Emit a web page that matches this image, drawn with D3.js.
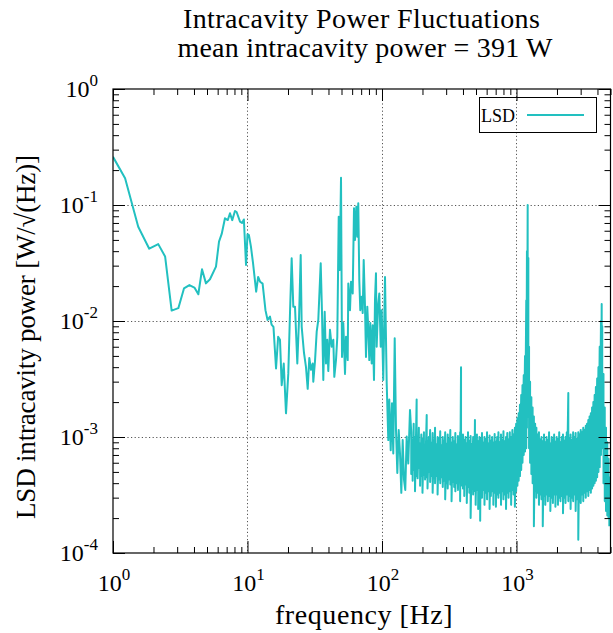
<!DOCTYPE html>
<html><head><meta charset="utf-8">
<script src="https://cdn.jsdelivr.net/npm/d3@7"></script>
<style>body{margin:0;background:#fff}svg{display:block}</style>
</head><body>
<script>
// ---- data ----
const lowFreq = [1.0,1.23,1.54,1.86,2.17,2.44,2.73,3.06,3.37,3.7,4.03,4.31,4.59,4.91,5.26,5.83,6.14,6.43,6.8,7.14,7.41,7.7,8.07,8.3,8.8,9.1,9.4,9.75,10.0,10.25,10.6,11.0,11.6,12.0,12.4,12.95,13.6,14.1,14.7,15.1,15.6,16.3,16.9,17.44,17.96,18.6,19.33,20.1,20.7,21.3,21.9,22.55,23.46,24.15,24.86,25.29,26.31,27.22,28.03,28.81,29.66,30.54,30.85,31.76,32.7,33.6,35.02,35.81,36.62,37.5,38.34,39.19,39.87,41.05,42.27,43.45,44.21,45.5,46.53,47.66,48.48,49.58,50.43,51.57,53.09,54.0,55.6,56.16,57.83,58.82,60.57,61.93,63.0,64.41,65.5,66.63,67.79,68.96,70.66,71.87,73.11,74.76,76.03,77.75,79.09,80.46,81.85,83.83,85.29,87.2,88.7,90.2,91.3,93.4,95.5,97.8,99.5,102.2,105.3,108.4,111.4,113.3,116.1,118.7,121.3,124.3,127.1,130.0,133.1,136.1,139.2,142.5,145.7,149.0,152.6,156.8,161.5];
const lowLSD = [0.26,0.17,0.065,0.042,0.046,0.036,0.0123,0.0129,0.0191,0.0204,0.0194,0.017,0.0279,0.0211,0.0229,0.0294,0.0483,0.0563,0.0768,0.0742,0.085,0.074,0.0888,0.087,0.0718,0.070,0.075,0.0304,0.056,0.055,0.044,0.0314,0.0179,0.024,0.0218,0.021,0.0124,0.0102,0.0109,0.0093,0.0089,0.0039,0.0073,0.0069,0.0028,0.0043,0.0016,0.0035,0.0117,0.0347,0.0133,0.0133,0.0043,0.0102,0.0371,0.0089,0.0053,0.0040,0.0026,0.0048,0.0038,0.0043,0.0030,0.0045,0.0081,0.0102,0.0314,0.0117,0.0031,0.0120,0.0043,0.0069,0.0037,0.0084,0.0060,0.0069,0.0033,0.0046,0.0073,0.0793,0.0275,0.172,0.0049,0.0096,0.0035,0.0073,0.0046,0.0211,0.0124,0.0218,0.0173,0.0937,0.0499,0.0967,0.0533,0.1034,0.0226,0.0124,0.0162,0.0117,0.0336,0.0133,0.0049,0.0133,0.0084,0.0046,0.0096,0.0043,0.0092,0.0031,0.0152,0.0258,0.0060,0.0133,0.0173,0.0060,0.0124,0.0031,0.024,0.0029,0.00094,0.0021,0.00077,0.00195,0.00072,0.0071,0.00115,0.00049,0.00115,0.00072,0.00033,0.00094,0.00043,0.00035,0.00101,0.00059,0.00171];

// dense high-frequency part: upper and lower edge of the noise band at each frequency
const bandFreq = [165,169,172,176,181,184,188,192,196,200,205,209,215,218,223,228,233,238,243,248,254,259,265,271,277,283,289,295,302,308,315,322,329,336,344,351,359,367,375,381,387,393,400,409,418,427,436,446,456,466,476,486,491,497,508,519,530,537,542,554,566,578,591,604,617,631,645,659,673,688,703,718,734,750,767,783,800,818,836,854,873,892,912,932,952,973,994,1016,1038,1061,1084,1108,1132,1157,1182,1196,1211,1225,1240,1262,1290,1318,1347,1376,1406,1437,1469,1501,1534,1568,1602,1637,1673,1710,1747,1785,1825,1865,1905,1947,1990,2033,2078,2123,2170,2217,2266,2315,2366,2428,2471,2525,2580,2637,2694,2753,2814,2880,2938,3003,3068,3136,3204,3274,3346,3419,3494,3571,3649,3729,3811,3894,3979,4067,4156,4247,4300,4340,4435,4532,4631,4733,4836,4900];
const bandHigh = [
1.1e-3,9.5e-4,1.3e-3,1.0e-3,2.1e-3,9.0e-4,1.2e-3,8.8e-4,1.05e-3,9.6e-4,
1.1e-3,8.6e-4,1.55e-3,9.2e-4,1.0e-3,1.15e-3,8.9e-4,1.08e-3,9.4e-4,1.2e-3,
8.7e-4,1.0e-3,9.8e-4,1.12e-3,8.5e-4,1.0e-3,9.3e-4,1.1e-3,8.8e-4,1.05e-3,
9.6e-4,1.15e-3,8.9e-4,1.0e-3,9.2e-4,1.08e-3,8.6e-4,1.02e-3,9.5e-4,1.1e-3,
4.0e-3,9.0e-4,1.05e-3,9.4e-4,1.0e-3,8.8e-4,1.1e-3,9.3e-4,1.02e-3,8.7e-4,
1.0e-3,9.5e-4,1.4e-3,9.0e-4,1.05e-3,9.2e-4,1.0e-3,8.8e-4,9.6e-4,1.08e-3,
8.9e-4,1.0e-3,9.6e-4,1.1e-3,8.8e-4,1.03e-3,9.3e-4,1.0e-3,8.9e-4,1.06e-3,
9.1e-4,1.0e-3,1.1e-3,9.0e-4,1.05e-3,9.4e-4,1.12e-3,9.2e-4,1.0e-3,1.08e-3,
9.5e-4,1.1e-3,1.0e-3,1.15e-3,1.05e-3,1.2e-3,1.3e-3,1.45e-3,1.6e-3,1.9e-3,
2.3e-3,2.8e-3,3.4e-3,5.0e-3,1.5e-2,4.0e-2,1.0e-1,3.5e-2,6.0e-3,3.0e-3,
2.2e-3,1.8e-3,1.5e-3,1.3e-3,1.2e-3,1.05e-3,1.1e-3,9.5e-4,1.0e-3,9.2e-4,
1.05e-3,9.0e-4,1.0e-3,9.4e-4,1.1e-3,8.8e-4,1.0e-3,9.5e-4,1.05e-3,9.1e-4,
1.0e-3,9.6e-4,1.1e-3,9.0e-4,1.0e-3,1.05e-3,9.3e-4,1.0e-3,1.1e-3,2.4e-3,
9.8e-4,1.05e-3,9.4e-4,1.1e-3,1.0e-3,1.08e-3,9.6e-4,1.1e-3,1.05e-3,1.15e-3,
1.1e-3,1.2e-3,1.15e-3,1.25e-3,1.3e-3,1.4e-3,1.5e-3,1.6e-3,1.8e-3,2.0e-3,
2.3e-3,2.7e-3,3.2e-3,4.0e-3,6.0e-3,1.0e-2,1.4e-2,9.0e-3,3.5e-3,1.8e-3,
1.2e-3,9.0e-4,6.5e-4,4.5e-4];
const bandLow = [
4.8e-4,4.2e-4,5.2e-4,3.4e-4,4.6e-4,4.4e-4,5.4e-4,3.8e-4,4.6e-4,3.3e-4,
4.7e-4,4.3e-4,4.5e-4,3.6e-4,5.0e-4,4.1e-4,4.6e-4,3.3e-4,4.4e-4,4.0e-4,
4.6e-4,3.2e-4,4.3e-4,4.0e-4,4.5e-4,3.7e-4,4.2e-4,2.9e-4,4.0e-4,3.6e-4,
4.3e-4,3.9e-4,2.8e-4,4.1e-4,3.7e-4,3.4e-4,4.0e-4,3.5e-4,4.1e-4,2.8e-4,
3.8e-4,4.0e-4,3.6e-4,3.1e-4,3.9e-4,2.7e-4,3.7e-4,3.3e-4,2.0e-4,3.6e-4,
3.2e-4,3.7e-4,3.4e-4,2.6e-4,3.5e-4,2.4e-4,3.3e-4,1.9e-4,3.4e-4,3.0e-4,
3.5e-4,2.6e-4,3.3e-4,2.9e-4,3.4e-4,2.4e-4,3.1e-4,3.4e-4,2.6e-4,3.3e-4,
2.5e-4,3.2e-4,3.0e-4,3.3e-4,2.6e-4,3.4e-4,2.9e-4,3.2e-4,2.4e-4,3.3e-4,
3.0e-4,3.4e-4,2.6e-4,3.5e-4,3.2e-4,2.5e-4,3.4e-4,3.8e-4,4.2e-4,4.6e-4,
5.2e-4,6.0e-4,7.0e-4,7.5e-4,8.0e-4,1.2e-3,2.5e-3,1.5e-3,8.0e-4,6.0e-4,
4.8e-4,4.0e-4,1.7e-4,3.4e-4,3.0e-4,3.3e-4,2.6e-4,3.2e-4,2.9e-4,1.7e-4,
3.1e-4,2.6e-4,3.2e-4,2.8e-4,3.1e-4,2.3e-4,3.0e-4,2.7e-4,3.2e-4,2.5e-4,
3.2e-4,2.6e-4,3.0e-4,2.8e-4,3.1e-4,2.2e-4,3.0e-4,2.7e-4,3.2e-4,2.8e-4,
3.1e-4,2.4e-4,3.0e-4,2.8e-4,3.2e-4,2.3e-4,2.9e-4,1.3e-4,3.0e-4,2.7e-4,
3.2e-4,2.8e-4,3.3e-4,3.0e-4,3.4e-4,3.1e-4,3.5e-4,3.3e-4,3.6e-4,3.8e-4,
4.0e-4,4.2e-4,4.5e-4,5.0e-4,5.5e-4,7.0e-4,1.0e-3,8.0e-4,4.0e-4,2.8e-4,
2.3e-4,2.1e-4,2.0e-4,1.7e-4];

const xTickExps = [0,1,2,3];
const yTickExps = [0,-1,-2,-3,-4];
const titleLines = ["Intracavity Power Fluctuations","mean intracavity power = 391 W"];
const xLabel = "frequency [Hz]";
const yLabel = "LSD intracavity power [W/\u221A(Hz)]";
const seriesName = "LSD";

// ---- drawing ----
const W = 613, H = 633;
const L = 113, R = 610.5, T = 89, B = 553;
const color = "#22c0c0";
const serif = "'Liberation Serif','Times New Roman',serif";

const svg = d3.select("body").append("svg").attr("width", W).attr("height", H)
  .attr("font-family", serif);
const x = d3.scaleLog().domain([1, 5000]).range([L, R]);
const y = d3.scaleLog().domain([1e-4, 1]).range([B, T]);

const xMaj = xTickExps.map(e => Math.pow(10, e));
const yMaj = yTickExps.map(e => Math.pow(10, e));
const xMin = x.ticks().filter(v => !xMaj.some(m => Math.abs(m - v) < 1e-9));
const yMin = y.ticks().filter(v => !yMaj.some(m => Math.abs(m / v - 1) < 1e-6));

// grid
const grid = svg.append("g").attr("stroke", "#555").attr("stroke-width", 1).attr("stroke-dasharray", "1.2,2.4");
grid.selectAll(".gx").data(xMaj.filter(v => v > 1)).join("line")
  .attr("x1", d => Math.round(x(d)) + 0.5).attr("x2", d => Math.round(x(d)) + 0.5)
  .attr("y1", T).attr("y2", B);
grid.selectAll(".gy").data(yMaj.filter(v => v < 1 && v > 1e-4)).join("line")
  .attr("y1", d => Math.round(y(d)) + 0.5).attr("y2", d => Math.round(y(d)) + 0.5)
  .attr("x1", L).attr("x2", R);

// data
const pts = lowFreq.map((f, i) => [f, lowLSD[i]]);
bandFreq.forEach((f, i) => { pts.push([f, bandHigh[i]]); pts.push([f, bandLow[i]]); });
svg.append("clipPath").attr("id", "clip").append("rect")
  .attr("x", L).attr("y", T).attr("width", R - L).attr("height", B - T);
svg.append("path").datum(pts)
  .attr("clip-path", "url(#clip)")
  .attr("fill", "none").attr("stroke", color).attr("stroke-width", 2)
  .attr("stroke-linejoin", "round")
  .attr("d", d3.line().x(d => x(d[0])).y(d => y(d[1])));

// ticks (mirrored on all four sides)
function ticks(axisGen, tr, vals, size) {
  const g = svg.append("g").attr("transform", tr)
    .call(axisGen.tickValues(vals).tickSize(-size).tickFormat(""));
  g.select(".domain").remove();
  g.selectAll("line").attr("stroke", "#000");
}
ticks(d3.axisBottom(x), `translate(0,${B})`, xMaj, 12);
ticks(d3.axisBottom(x), `translate(0,${B})`, xMin, 6);
ticks(d3.axisTop(x), `translate(0,${T})`, xMaj, 12);
ticks(d3.axisTop(x), `translate(0,${T})`, xMin, 6);
ticks(d3.axisLeft(y), `translate(${L},0)`, yMaj, 12);
ticks(d3.axisLeft(y), `translate(${L},0)`, yMin, 6);
ticks(d3.axisRight(y), `translate(${R},0)`, yMaj, 12);
ticks(d3.axisRight(y), `translate(${R},0)`, yMin, 6);

// frame
svg.append("rect").attr("x", L).attr("y", T).attr("width", R - L).attr("height", B - T)
  .attr("fill", "none").attr("stroke", "#000").attr("stroke-width", 1.2);

// tick labels
const xl = svg.append("g").attr("fill", "#000");
xTickExps.forEach(e => {
  const t = xl.append("text").attr("x", x(Math.pow(10, e)) + 1).attr("y", B + 38)
    .attr("text-anchor", "middle");
  t.append("tspan").attr("font-size", 24).text("10");
  t.append("tspan").attr("font-size", 17).attr("dy", -11).text(String(e));
});
yTickExps.forEach(e => {
  const t = xl.append("text").attr("x", 98).attr("y", y(Math.pow(10, e)) + 8)
    .attr("text-anchor", "end");
  t.append("tspan").attr("font-size", 24).text("10");
  t.append("tspan").attr("font-size", 17).attr("dy", -11).text(e === 0 ? "0" : "-" + Math.abs(e));
});

// titles
svg.append("text").attr("x", 361.4).attr("y", 28.3).attr("text-anchor", "middle")
  .attr("font-size", 28)
  .attr("textLength", 357).attr("lengthAdjust", "spacing").text(titleLines[0]);
svg.append("text").attr("x", 365).attr("y", 56.7).attr("text-anchor", "middle")
  .attr("font-size", 28)
  .attr("textLength", 375).attr("lengthAdjust", "spacing").text(titleLines[1]);
svg.append("text").attr("x", 363.8).attr("y", 624).attr("text-anchor", "middle")
  .attr("font-size", 28)
  .attr("textLength", 177.7).attr("lengthAdjust", "spacing").text(xLabel);
svg.append("text").attr("transform", "translate(35,337) rotate(-90)").attr("text-anchor", "middle")
  .attr("font-size", 27)
  .attr("textLength", 364).attr("lengthAdjust", "spacing").text(yLabel);

// legend
const lg = svg.append("g");
lg.append("rect").attr("x", 479.5).attr("y", 97.5).attr("width", 117).attr("height", 35)
  .attr("fill", "none").attr("stroke", "#000").attr("stroke-width", 1);
lg.append("text").attr("x", 481).attr("y", 122).attr("font-size", 18)
  .attr("textLength", 34).attr("lengthAdjust", "spacingAndGlyphs").text(seriesName);
lg.append("line").attr("x1", 527).attr("x2", 584).attr("y1", 115).attr("y2", 115)
  .attr("stroke", color).attr("stroke-width", 2);
</script>
</body></html>
